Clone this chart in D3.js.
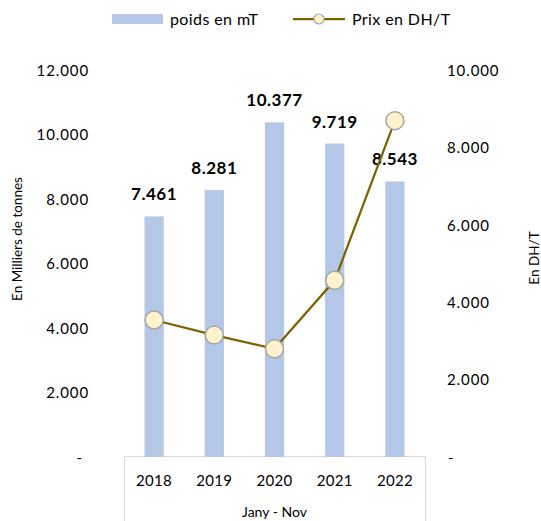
<!DOCTYPE html>
<html><head><meta charset="utf-8">
<script src="https://cdn.jsdelivr.net/npm/d3@7"></script>
<style>
body{margin:0;background:#fff;}
text{font-family:Lato,"Open Sans",sans-serif;fill:#000;}
</style></head>
<body>
<svg id="c" width="541" height="521"></svg>
<script>
const categories = ["2018","2019","2020","2021","2022"];
const poids = [7461, 8281, 10377, 9719, 8543];
const prix = [3540, 3150, 2795, 4565, 8690];
const leftTicks = [0, 2000, 4000, 6000, 8000, 10000, 12000];
const rightTicks = [0, 2000, 4000, 6000, 8000, 10000];
const groupLabel = "Jany - Nov";
const seriesNames = ["poids en mT", "Prix en DH/T"];
const leftTitle = "En Milliers de tonnes";
const rightTitle = "En DH/T";

const loc = d3.formatLocale({decimal:",", thousands:".", grouping:[3], currency:["",""]});
const fmt = loc.format(",.0f");
const tickFmt = v => v === 0 ? "-" : fmt(v);

const svg = d3.select("#c");
const x = d3.scaleBand().domain(categories).range([124, 425]).paddingInner(0.68).paddingOuter(0.34);
const yL = d3.scaleLinear().domain([0, 12000]).range([457, 70]);
const yR = d3.scaleLinear().domain([0, 10000]).range([457, 70]);

// category axis box
svg.append("rect").attr("x", 124.5).attr("y", 456.5).attr("width", 301).attr("height", 80)
  .attr("fill", "none").attr("stroke", "#D9D9D9").attr("stroke-width", 1);

// bars
svg.selectAll("rect.bar").data(poids).join("rect").attr("class","bar")
  .attr("x", (d,i) => x(categories[i])).attr("width", x.bandwidth())
  .attr("y", d => yL(d)).attr("height", d => yL(0) - yL(d))
  .attr("fill", "#B4C7E7");

// bar labels
svg.selectAll("text.bl").data(poids).join("text").attr("class","bl")
  .attr("x", (d,i) => x(categories[i]) + x.bandwidth()/2)
  .attr("y", d => yL(d) - 16)
  .attr("text-anchor","middle").attr("font-weight","bold").attr("font-size", 17)
  .attr("letter-spacing", 0.5)
  .text(d => fmt(d));

// line
const cx = (d,i) => x(categories[i]) + x.bandwidth()/2;
const line = d3.line().x((d,i) => cx(d,i)).y(d => yR(d));
svg.append("path").datum(prix).attr("d", line).attr("fill","none")
  .attr("stroke","#7F6000").attr("stroke-width", 2.25);
svg.selectAll("circle.pt").data(prix).join("circle").attr("class","pt")
  .attr("cx", cx).attr("cy", d => yR(d)).attr("r", 9)
  .attr("fill","#FFF2CC").attr("stroke","#A6A6A6").attr("stroke-width", 1.5);

// left axis
const gL = svg.append("g").attr("transform","translate(89,0)")
  .call(d3.axisLeft(yL).tickValues(leftTicks).tickFormat(tickFmt).tickSize(0).tickPadding(0));
gL.select(".domain").remove();
gL.selectAll("text").attr("font-size", 15).attr("letter-spacing", 0.9).attr("dy","0.35em")
  .attr("font-family","Lato,sans-serif")
  .attr("dx", d => d === 0 ? -6 : 0);

// right axis
const gR = svg.append("g").attr("transform","translate(447,0)")
  .call(d3.axisRight(yR).tickValues(rightTicks).tickFormat(tickFmt).tickSize(0).tickPadding(0));
gR.select(".domain").remove();
gR.selectAll("text").attr("font-size", 15).attr("letter-spacing", 0.9).attr("dy","0.35em")
  .attr("font-family","Lato,sans-serif")
  .attr("dx", d => d === 0 ? 1 : 0);

// category labels
svg.selectAll("text.cat").data(categories).join("text").attr("class","cat")
  .attr("x", d => x(d) + x.bandwidth()/2).attr("y", 481).attr("dy","0.35em")
  .attr("text-anchor","middle").attr("font-size", 15).attr("letter-spacing", 0.3)
  .text(d => d);
svg.append("text").attr("x", (124+425)/2).attr("y", 517)
  .attr("text-anchor","middle").attr("font-size", 14).text(groupLabel);

// axis titles
svg.append("text").attr("transform","translate(17.5,239) rotate(-90)").attr("dy","0.35em")
  .attr("text-anchor","middle").attr("font-size", 13.5).text(leftTitle);
svg.append("text").attr("transform","translate(534,258) rotate(-90)").attr("dy","0.35em")
  .attr("text-anchor","middle").attr("font-size", 13.5).text(rightTitle);

// legend
const lg = svg.append("g");
lg.append("rect").attr("x",112).attr("y",14).attr("width",51).attr("height",10).attr("fill","#B4C7E7");
lg.append("text").attr("x",170).attr("y",19).attr("dy","0.35em").attr("font-size",16).attr("letter-spacing",0.4).text(seriesNames[0]);
lg.append("line").attr("x1",293).attr("x2",345).attr("y1",19).attr("y2",19).attr("stroke","#7F6000").attr("stroke-width",2.25);
lg.append("circle").attr("cx",319).attr("cy",19).attr("r",5).attr("fill","#FFF2CC").attr("stroke","#A6A6A6").attr("stroke-width",1.2);
lg.append("text").attr("x",352).attr("y",19).attr("dy","0.35em").attr("font-size",16).attr("letter-spacing",0.4).text(seriesNames[1]);
</script>
</body></html>
